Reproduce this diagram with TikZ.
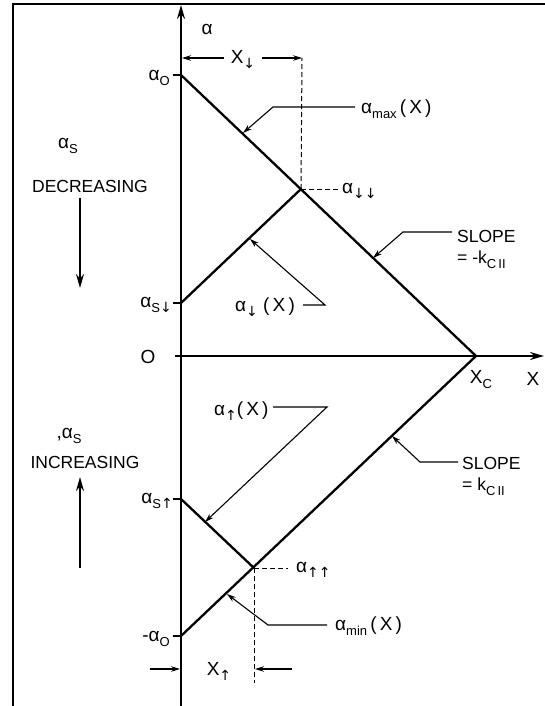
\documentclass[tikz,border=0pt]{standalone}
\usepackage{fontspec}
\setmainfont{Liberation Sans}
\newfontfamily\symf{DejaVu Sans}
\usetikzlibrary{arrows.meta}
\newcommand{\sbs}[1]{\raisebox{-0.5ex}{\fontsize{13}{13}\selectfont #1}}
\newcommand{\dn}{{\symf\fontsize{14}{14}\selectfont ↓}}
\newcommand{\up}{{\symf\fontsize{14}{14}\selectfont ↑}}
\begin{document}
\begin{tikzpicture}[x=1pt,y=-1pt,
  axis/.style={line width=2pt},
  curve/.style={line width=2.3pt},
  leader/.style={line width=1.1pt},
  lbl/.style={font=\fontsize{19}{19}\selectfont, inner sep=0pt},
  capt/.style={font=\fontsize{17.5}{17.5}\selectfont, inner sep=0pt},
  dim/.style={line width=1pt, dash pattern=on 5pt off 3pt},
  tip/.style={-{Stealth[length=9pt,width=5.5pt]}},
  bigtip/.style={-{Stealth[length=14pt,width=8pt]}}
]
\useasboundingbox (0,0) rectangle (545,706);
% frame
\coordinate (fbl) at (13,706);
\coordinate (ftl) at (13,4);
\coordinate (ftr) at (545,4);
\draw[line width=1.5pt] (fbl) -- (ftl) -- (ftr);
% axes
\coordinate (O) at (181,356);
\coordinate (ytop) at (181,5);
\coordinate (ybot) at (181,706);
\coordinate (xl) at (175,356);
\coordinate (xr) at (544,356);
\draw[axis,bigtip] (ybot) -- (ytop);
\draw[axis,bigtip] (xl) -- (xr);
% key points
\coordinate (a0) at (181,75);
\coordinate (Xc) at (476,356);
\coordinate (ma0) at (181,636);
\coordinate (asd) at (181,303);
\coordinate (add) at (301,189);
\coordinate (asu) at (181,499);
\coordinate (auu) at (254,568);
% ticks
\coordinate (a0t) at (173,75);
\coordinate (asdt) at (173,303);
\coordinate (asut) at (173,499);
\coordinate (ma0t) at (173,636);
\draw[axis] (a0t) -- (a0);
\draw[axis] (asdt) -- (asd);
\draw[axis] (asut) -- (asu);
\draw[axis] (ma0t) -- (ma0);
% curves
\draw[curve] (a0) -- (Xc) -- (ma0);
\draw[curve] (asd) -- (add);
\draw[curve] (asu) -- (auu);
% axis labels
\node[lbl] (alab) at (207,29) {α};
\node[lbl] (olab) at (148,357) {O};
\node[lbl] (xlab) at (533,379) {X};
\node[lbl] (xclab) at (481,380) {X\sbs{C}};
\node[lbl,anchor=east] (a0lab) at (170,78) {α\sbs{O}};
\node[lbl,anchor=east] (asdlab) at (172,305) {α\sbs{S\dn}};
\node[lbl,anchor=east] (asulab) at (173,501) {α\sbs{S\up}};
\node[lbl,anchor=east] (ma0lab) at (170,639) {-α\sbs{O}};
% x down dimension
\coordinate (dtop) at (302,58);
\coordinate (dax) at (182,58);
\node[lbl] (xdlab) at (243,59) {X\sbs{\dn}};
\coordinate (xdl) at (224,58);
\coordinate (xdr) at (262,58);
\draw[leader,tip] (xdl) -- (dax);
\draw[leader,tip] (xdr) -- (dtop);
\draw[dim] (add) -- (dtop);
\coordinate (adde) at (340,189);
\draw[dim] (add) -- (adde);
\node[lbl,anchor=west] (addlab) at (342,191) {α\sbs{\dn\dn}};
% alpha max
\node[lbl,anchor=west] (amaxlab) at (361,109) {α\sbs{max}\,(\,X\,)};
\coordinate (m1) at (355,107);
\coordinate (m2) at (273,107);
\coordinate (m3) at (243,133);
\draw[leader,tip] (m1) -- (m2) -- (m3);
% slope -k
\node[capt,anchor=west] (s1a) at (457,236) {SLOPE};
\node[capt,anchor=west] (s1b) at (457,260) {= -k\sbs{C\,II}};
\coordinate (p1) at (452,232);
\coordinate (p2) at (403,232);
\coordinate (p3) at (373,258);
\draw[leader,tip] (p1) -- (p2) -- (p3);
% alpha down (X)
\node[lbl,anchor=west] (adlab) at (235,307) {α\sbs{\dn}\;(\,X\,)};
\coordinate (d1) at (303,305);
\coordinate (d2) at (325,305);
\coordinate (d3) at (250,239);
\draw[leader,tip] (d1) -- (d2) -- (d3);
% alpha up (X)
\node[lbl,anchor=west] (aulab) at (214,411) {α\sbs{\up}(\,X\,)};
\coordinate (u1) at (273,407);
\coordinate (u2) at (327,407);
\coordinate (u3) at (205,522);
\draw[leader,tip] (u1) -- (u2) -- (u3);
% alpha up up
\coordinate (auue) at (288,568);
\draw[dim] (auu) -- (auue);
\node[lbl,anchor=west] (auulab) at (296,570) {α\sbs{\up\up}};
\coordinate (dbot) at (254,683);
\draw[dim] (auu) -- (dbot);
% x up dimension
\coordinate (xu0) at (150,669);
\coordinate (xuax) at (180,669);
\coordinate (xu1) at (292,669);
\coordinate (xu2) at (255,669);
\draw[leader,tip] (xu0) -- (xuax);
\draw[leader,tip] (xu1) -- (xu2);
\node[lbl] (xulab) at (219,671) {X\sbs{\up}};
% alpha min
\node[lbl,anchor=west] (aminlab) at (335,626) {α\sbs{min}\,(\,X\,)};
\coordinate (n1) at (327,625);
\coordinate (n2) at (268,625);
\coordinate (n3) at (227,594);
\draw[leader,tip] (n1) -- (n2) -- (n3);
% slope k
\node[capt,anchor=west] (s2a) at (462,463) {SLOPE};
\node[capt,anchor=west] (s2b) at (462,487) {= k\sbs{C\,II}};
\coordinate (q1) at (458,462);
\coordinate (q2) at (420,462);
\coordinate (q3) at (392,436);
\draw[leader,tip] (q1) -- (q2) -- (q3);
% left captions
\node[lbl] (asA) at (68,146) {α\sbs{S}};
\node[capt] (dec) at (90,186) {DECREASING};
\coordinate (dA) at (80,198);
\coordinate (dB) at (80,288);
\draw[axis,bigtip] (dA) -- (dB);
\node[lbl] (asB) at (69,436) {,α\sbs{S}};
\node[capt] (inc) at (85,462) {INCREASING};
\coordinate (iA) at (80,568);
\coordinate (iB) at (80,477);
\draw[axis,bigtip] (iA) -- (iB);
\end{tikzpicture}
\end{document}
